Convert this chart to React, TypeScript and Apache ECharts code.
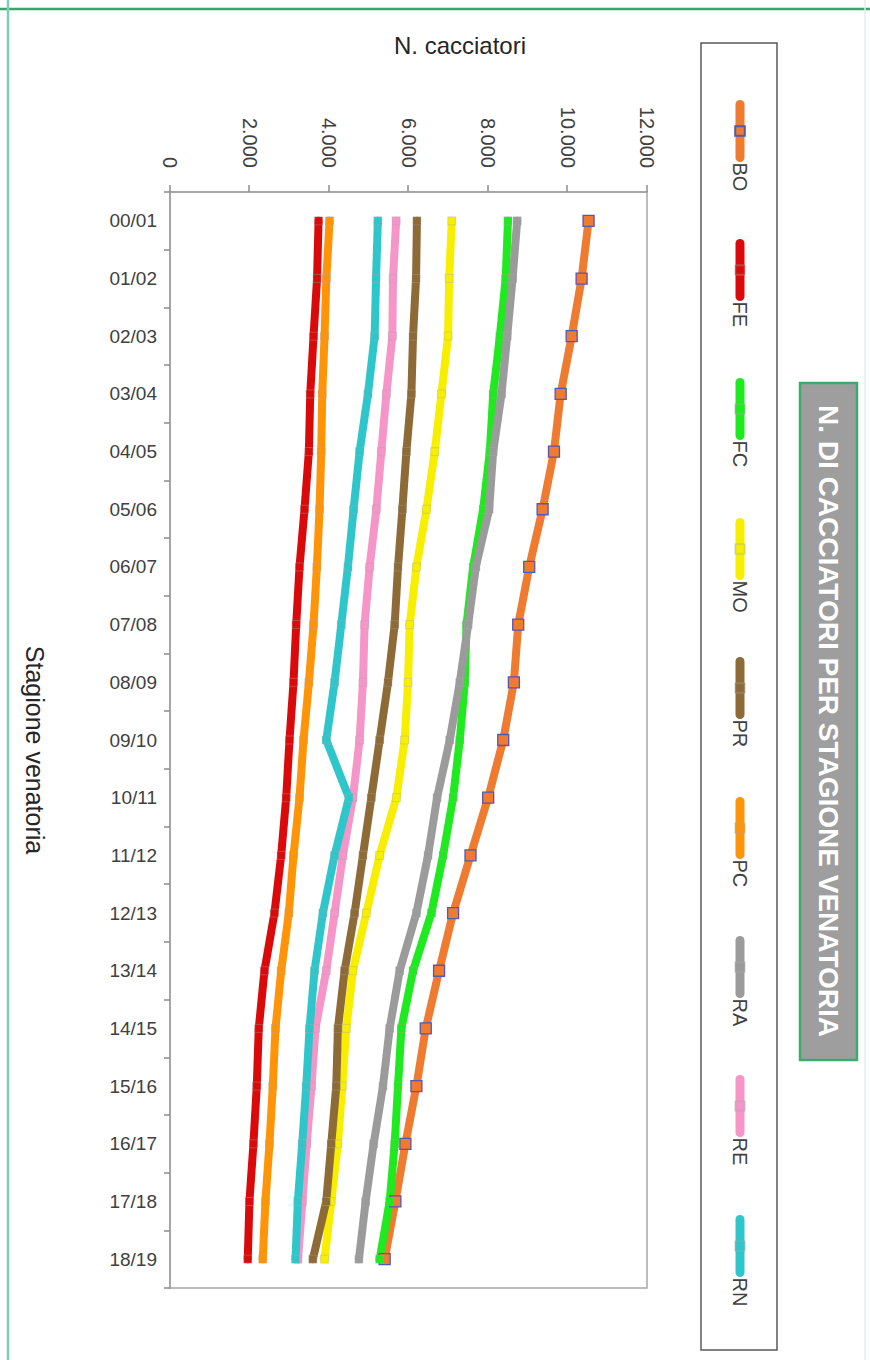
import React, { useEffect, useRef } from "react";
import * as echarts from "echarts";

const categories = ["00/01","01/02","02/03","03/04","04/05","05/06","06/07","07/08","08/09","09/10","10/11","11/12","12/13","13/14","14/15","15/16","16/17","17/18","18/19"];
const BO = [10530,10355,10105,9828,9660,9374,9037,8760,8651,8383,8004,7560,7122,6769,6434,6199,5922,5670,5400];
const FE = [3737,3700,3611,3528,3494,3384,3258,3175,3107,3006,2923,2797,2628,2376,2233,2183,2099,1998,1956];
const FC = [8502,8445,8298,8130,8046,7878,7626,7459,7416,7290,7122,6870,6577,6114,5821,5736,5652,5526,5274];
const MO = [7089,7023,6996,6829,6660,6451,6199,6030,5988,5904,5695,5274,4939,4602,4435,4334,4224,4057,3888];
const PR = [6212,6190,6114,6073,5947,5846,5736,5652,5484,5274,5065,4854,4644,4392,4224,4183,4057,3931,3594];
const PC = [4014,3933,3888,3830,3805,3762,3695,3611,3494,3359,3258,3107,2989,2797,2654,2586,2502,2401,2334];
const RA = [8734,8618,8483,8340,8130,8029,7694,7500,7290,7038,6719,6492,6199,5778,5526,5358,5123,4922,4753];
const RE = [5690,5610,5594,5443,5317,5191,5022,4896,4854,4770,4602,4350,4140,3931,3660,3560,3440,3330,3220];
const RN = [5229,5184,5148,4980,4770,4619,4476,4309,4140,3931,4501,4140,3846,3636,3510,3427,3326,3216,3158];

const seriesNames = ["BO","FE","FC","MO","PR","PC","RA","RE","RN"];
const seriesData = [BO, FE, FC, MO, PR, PC, RA, RE, RN];
const seriesColors = ["#EE7B30","#DA0A0A","#1FEA1F","#F7EE00","#8D6A36","#FF9408","#9B9B9B","#F595C8","#2FC6CB"];

const valueTicks = { min: 0, max: 12000, interval: 2000 };
const titleText = "N. DI CACCIATORI PER STAGIONE VENATORIA";
const valueAxisTitle = "N. cacciatori";
const categoryAxisTitle = "Stagione venatoria";

const FONT = "'Liberation Sans', Arial, sans-serif";
const legendStarts = [100, 239, 378, 518, 657, 797, 936, 1075, 1215];

function fmt(v: number) {
  if (v === 0) return "0";
  const s = String(Math.round(v));
  return s.replace(/\B(?=(\d{3})+(?!\d))/g, ".");
}

export default function App() {
  const ref = useRef<HTMLDivElement>(null);
  useEffect(() => {
    if (!ref.current) return;
    const chart = echarts.init(ref.current, null, { renderer: "svg" });
    const series = seriesNames.map((name, i) => {
      const isBO = name === "BO";
      return {
        name,
        type: "line",
        data: seriesData[i],
        symbol: "rect",
        symbolSize: isBO ? 11 : 8,
        showSymbol: true,
        lineStyle: { color: seriesColors[i], width: 8, cap: "round", join: "round" },
        itemStyle: {
          color: seriesColors[i],
          borderColor: isBO ? "#5656B4" : "rgba(170,170,170,0.35)",
          borderWidth: isBO ? 1.3 : 1,
        },
        emphasis: { disabled: true },
        z: 2,
      };
    });
    const legends = seriesNames.map((name, i) => ({
      data: [name],
      left: legendStarts[i],
      top: 120,
      orient: "horizontal",
      padding: 0,
      itemWidth: 53,
      itemHeight: 12,
      selectedMode: false,
      lineStyle: { width: 9, color: seriesColors[i], cap: "round" },
      textStyle: { fontSize: 20, lineHeight: 20, color: "#404040", fontFamily: FONT },
    }));
    chart.setOption({
      animation: false,
      backgroundColor: "#ffffff",
      grid: {
        left: 192,
        right: 72,
        top: 223,
        bottom: 170,
        show: true,
        borderColor: "#A6A6A6",
        borderWidth: 1.5,
        containLabel: false,
      },
      legend: legends,
      xAxis: {
        type: "category",
        data: categories,
        boundaryGap: true,
        axisLine: { show: true, lineStyle: { color: "#A6A6A6", width: 2 } },
        axisTick: { show: true, length: 6, lineStyle: { color: "#8C8C8C", width: 1.5 } },
        axisLabel: {
          rotate: 90,
          margin: 13,
          fontSize: 19,
          color: "#404040",
          fontFamily: FONT,
        },
        splitLine: { show: false },
      },
      yAxis: {
        type: "value",
        min: valueTicks.min,
        max: valueTicks.max,
        interval: valueTicks.interval,
        axisLine: { show: true, lineStyle: { color: "#A6A6A6", width: 2 } },
        axisTick: { show: true, length: 7, lineStyle: { color: "#8C8C8C", width: 1.5 } },
        axisLabel: {
          margin: 24,
          fontSize: 20,
          color: "#404040",
          fontFamily: FONT,
          formatter: (v: number) => fmt(v),
        },
        splitLine: { show: false },
      },
      graphic: [
        { type: "line", shape: { x1: 9, y1: 0, x2: 9, y2: 870 }, style: { stroke: "#33A86E", lineWidth: 2.5 }, z: 10 },
        { type: "line", shape: { x1: 0, y1: 862, x2: 1360, y2: 862 }, style: { stroke: "#7CCFB4", lineWidth: 2.5 }, z: 10 },
        { type: "line", shape: { x1: 0, y1: 5, x2: 1360, y2: 5 }, style: { stroke: "#E2EEEA", lineWidth: 1.5 }, z: 10 },
        {
          type: "rect",
          shape: { x: 383, y: 13, width: 677, height: 57 },
          style: { fill: "#9E9E9E", stroke: "#3DAA70", lineWidth: 2.5 },
          z: 10,
        },
        {
          type: "text",
          x: 721,
          y: 42,
          style: {
            text: titleText,
            fill: "#ffffff",
            font: `bold 28px ${FONT}`,
            align: "center",
            verticalAlign: "middle",
          },
          z: 11,
        },
        {
          type: "rect",
          shape: { x: 43, y: 93, width: 1307, height: 76 },
          style: { fill: "none", stroke: "#595959", lineWidth: 1.5 },
          z: 10,
        },
        {
          type: "text",
          x: 45,
          y: 410,
          rotation: Math.PI / 2,
          style: {
            text: valueAxisTitle,
            fill: "#262626",
            font: `24px ${FONT}`,
            align: "center",
            verticalAlign: "middle",
          },
          z: 10,
        },
        {
          type: "text",
          x: 750,
          y: 835,
          style: {
            text: categoryAxisTitle,
            fill: "#262626",
            font: `25px ${FONT}`,
            align: "center",
            verticalAlign: "middle",
          },
          z: 10,
        },
      ],
      series,
    });
    return () => chart.dispose();
  }, []);

  return (
    <div style={{ position: "absolute", left: 0, top: 0, width: 870, height: 1360, overflow: "hidden", background: "#fff" }}>
      <div
        ref={ref}
        style={{
          position: "absolute",
          left: 0,
          top: 0,
          width: 1360,
          height: 870,
          transformOrigin: "0 0",
          transform: "translate(870px, 0px) rotate(90deg)",
        }}
      />
    </div>
  );
}
